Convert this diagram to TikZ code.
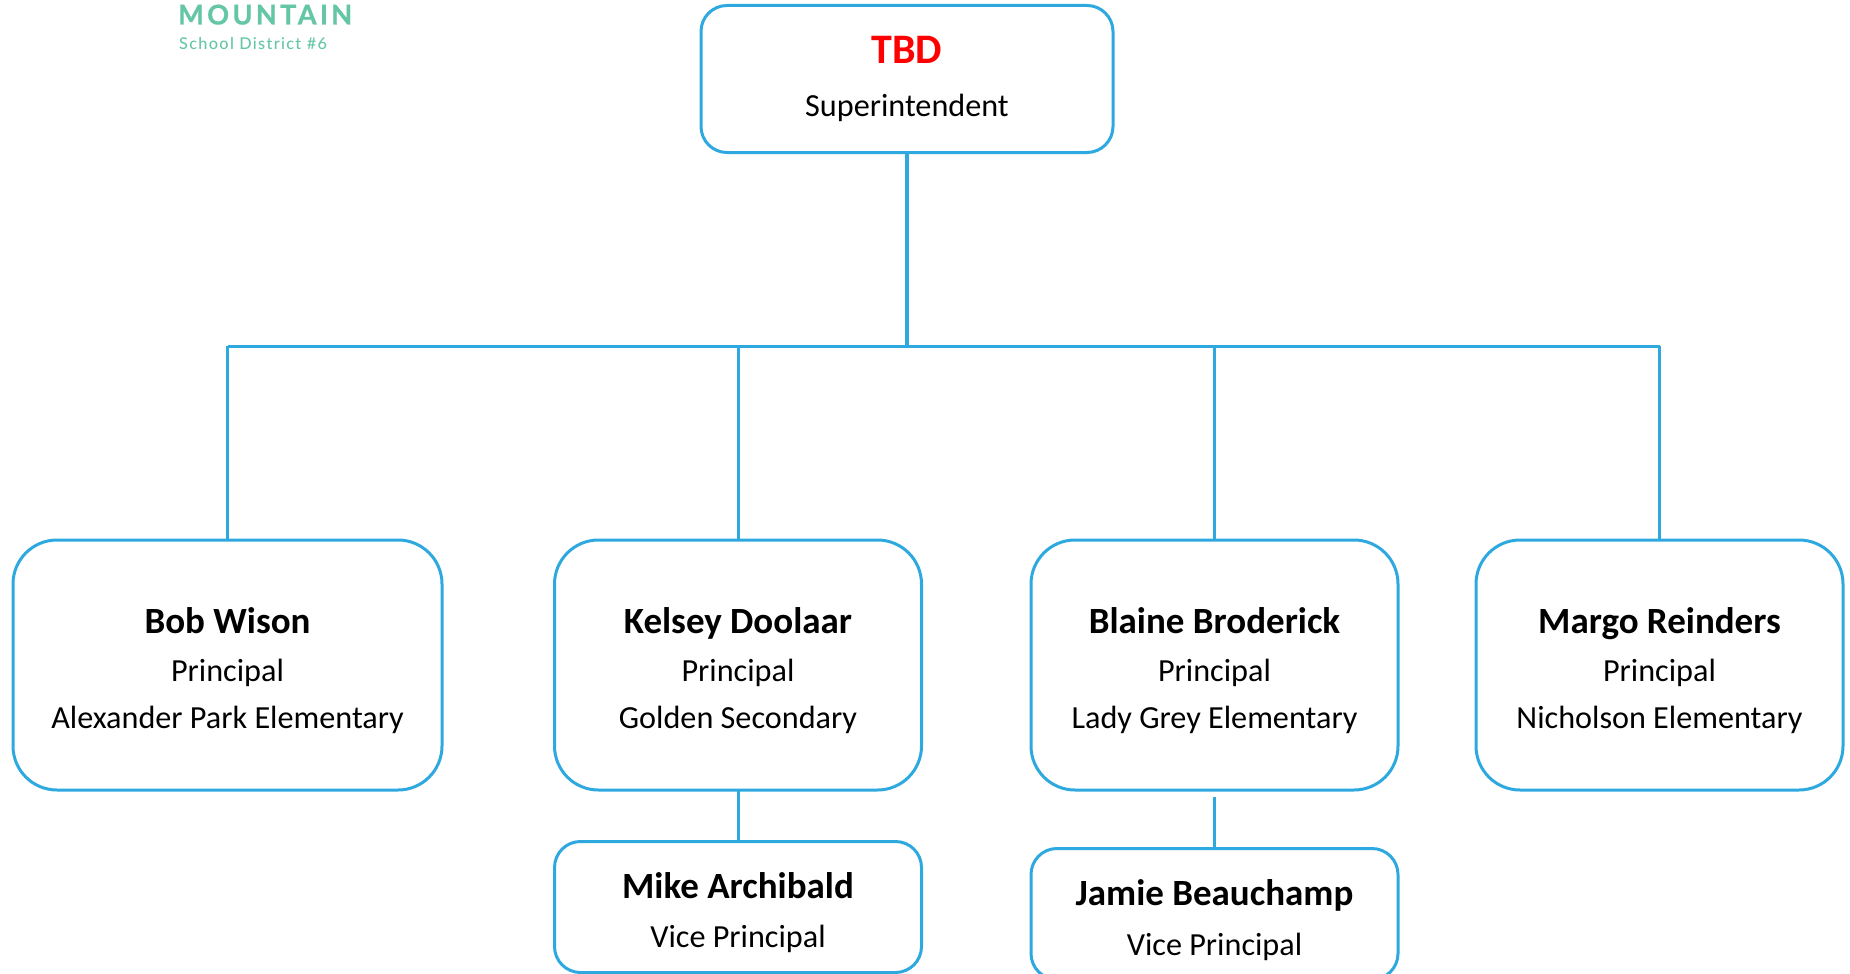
\documentclass[tikz,border=0pt]{standalone}
\usepackage{fontspec}
\setmainfont{Carlito}
\newfontfamily\logofont[LetterSpace=12,FakeBold=0.8]{Lato Bold}
\newfontfamily\logosmall[LetterSpace=8]{Lato Medium}
\definecolor{lineblue}{HTML}{2DA9DF}
\definecolor{logogreen}{HTML}{65C6A6}
\newcommand{\rowline}[3]{\rule[-#2pt]{0pt}{\dimexpr #1pt+#2pt\relax}#3}
\newcommand{\stack}[1]{\renewcommand{\arraystretch}{0}\begin{tabular}{@{}c@{}}#1\end{tabular}}
\newcommand{\nm}[1]{{\fontsize{37}{37}\selectfont\bfseries #1}}
\newcommand{\rl}[1]{{\fontsize{32.2}{32}\selectfont #1}}
\tikzset{
  orgbox/.style={draw=lineblue,line width=3pt,rounded corners=#1,fill=white,inner sep=0pt,outer sep=0pt,align=center},
  link/.style={draw=lineblue,line width=3pt},
  thinlink/.style={draw=lineblue,line width=3pt},
  logotext/.style={text=logogreen,anchor=base west,inner sep=0pt}
}
\begin{document}
\begin{tikzpicture}[x=1pt,y=-1pt]
\useasboundingbox (0,0) rectangle (1850,974);
\node[logotext,font={\logofont\fontsize{27.2}{28}\selectfont}] (logoa) at (178,24.5) {MOUNTAIN};
\node[logotext,font={\logosmall\fontsize{16.3}{16}\selectfont}] (logob) at (179,49.5) {School District \#6};

\node[orgbox=26pt,minimum width=412pt,minimum height=147pt] (top) at (907,79)
  {\stack{\rowline{58}{29}{\textcolor{red}{\fontsize{42}{42}\selectfont\bfseries TBD}}\\\rowline{24}{36}{\rl{Superintendent}}}};

\node[orgbox=44pt,minimum width=429pt,minimum height=250pt] (bob) at (227.5,665)
  {\stack{\rowline{93}{24}{\nm{Bob Wison}}\\\rowline{24}{23}{\rl{Principal}}\\\rowline{24}{62}{\rl{Alexander Park Elementary}}}};
\node[orgbox=44pt,minimum width=367pt,minimum height=250pt] (kelsey) at (738,665)
  {\stack{\rowline{93}{24}{\nm{Kelsey Doolaar}}\\\rowline{24}{23}{\rl{Principal}}\\\rowline{24}{62}{\rl{Golden Secondary}}}};
\node[orgbox=44pt,minimum width=367pt,minimum height=250pt] (blaine) at (1214.5,665)
  {\stack{\rowline{93}{24}{\nm{Blaine Broderick}}\\\rowline{24}{23}{\rl{Principal}}\\\rowline{24}{62}{\rl{Lady Grey Elementary}}}};
\node[orgbox=44pt,minimum width=367pt,minimum height=250pt] (margo) at (1659.5,665)
  {\stack{\rowline{93}{24}{\nm{Margo Reinders}}\\\rowline{24}{23}{\rl{Principal}}\\\rowline{24}{62}{\rl{Nicholson Elementary}}}};

\node[orgbox=26pt,minimum width=367pt,minimum height=131pt] (mike) at (738,907)
  {\stack{\rowline{57}{25}{\nm{Mike Archibald}}\\\rowline{24}{25}{\rl{Vice Principal}}}};
\node[orgbox=26pt,minimum width=367pt,minimum height=131pt] (jamie) at (1214.5,914)
  {\stack{\rowline{57}{26}{\nm{Jamie Beauchamp}}\\\rowline{24}{24}{\rl{Vice Principal}}}};

\coordinate (bus) at (907,346);
\coordinate (jamietop) at (1214.5,797);
\draw[link,line width=3.6pt] (top.south) -- (bus);
\draw[link] (bob.north |- bus) -- (margo.north |- bus);
\draw[link] (bob.north) -- (bob.north |- bus);
\draw[link] (kelsey.north) -- (kelsey.north |- bus);
\draw[link] (blaine.north) -- (blaine.north |- bus);
\draw[link] (margo.north) -- (margo.north |- bus);
\draw[thinlink] (kelsey.south) -- (mike.north);
\draw[thinlink] (jamie.north) -- (jamietop);
\end{tikzpicture}
\end{document}
